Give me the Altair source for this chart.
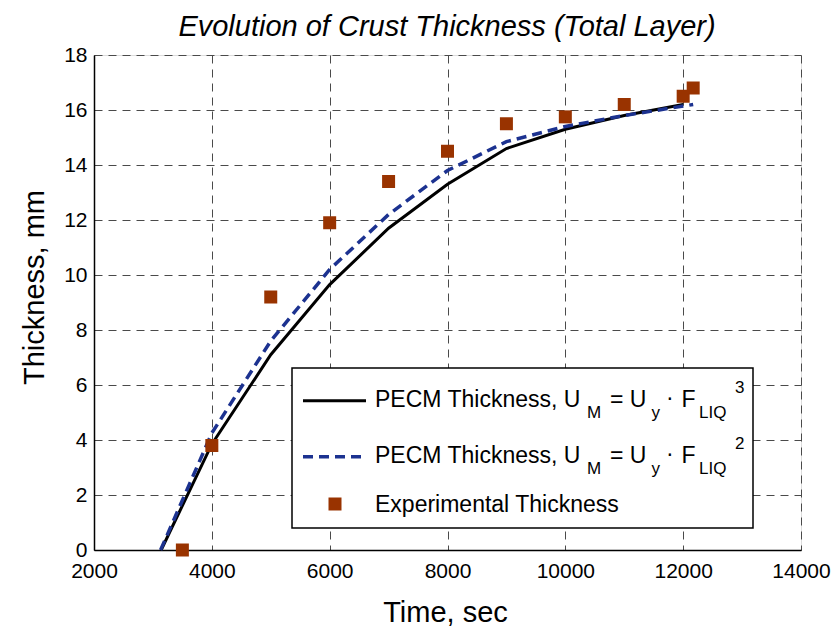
import altair as alt
import pandas as pd

# ---- data ----
pecm3_time = [3140, 4000, 5000, 6000, 7000, 8000, 9000, 10000, 11000, 12000]
pecm3_thick = [0.0, 3.85, 7.1, 9.65, 11.7, 13.3, 14.6, 15.3, 15.8, 16.2]

pecm2_time = [3130, 4000, 5000, 6000, 7000, 8000, 9000, 10000, 11000, 12170]
pecm2_thick = [0.0, 4.25, 7.6, 10.2, 12.2, 13.8, 14.85, 15.4, 15.8, 16.2]

exp_time = [3500, 4000, 5000, 6000, 7000, 8000, 9000, 10000, 11000, 12000, 12170]
exp_thick = [0.0, 3.8, 9.2, 11.9, 13.4, 14.5, 15.5, 15.75, 16.2, 16.5, 16.8]

x_ticks = [2000, 4000, 6000, 8000, 10000, 12000, 14000]
y_ticks = [0, 2, 4, 6, 8, 10, 12, 14, 16, 18]

FONT = "Liberation Sans"
BLACK_LINE = "#000000"
BLUE_LINE = "#1c3290"
SQUARE = "#993300"

df3 = pd.DataFrame({"t": pecm3_time, "h": pecm3_thick})
df2 = pd.DataFrame({"t": pecm2_time, "h": pecm2_thick})
dfe = pd.DataFrame({"t": exp_time, "h": exp_thick})

xscale = alt.Scale(domain=[2000, 14000], nice=False, zero=False)
yscale = alt.Scale(domain=[0, 18], nice=False, zero=False)

xaxis = alt.Axis(
    values=x_ticks, format="d", title="Time, sec",
    grid=True, gridDash=[8, 6], gridColor="#4a4a4a", gridWidth=1,
    ticks=False, tickSize=0, labelPadding=10, labelFontSize=21, labelFont=FONT,
    labelColor="#000000", domainColor="#000000", domainWidth=1.5,
    titleFont=FONT, titleFontSize=29, titleFontWeight="normal", titleColor="#000000",
    titleBaseline="alphabetic", titleY=71, titleX=351, titleAnchor="middle",
    labelFlush=False,
)
yaxis = alt.Axis(
    values=y_ticks, format="d", title="Thickness, mm",
    grid=True, gridDash=[8, 6], gridColor="#4a4a4a", gridWidth=1,
    ticks=False, tickSize=0, labelPadding=7, labelFontSize=21, labelFont=FONT,
    labelColor="#000000", domainColor="#000000", domainWidth=1.5,
    titleFont=FONT, titleFontSize=29, titleFontWeight="normal", titleColor="#000000",
    titleBaseline="alphabetic", titleX=-51, titleY=232, titleAngle=-90, titleAnchor="middle",
    labelFlush=False,
)

base_x = alt.X("t:Q", scale=xscale, axis=xaxis)
base_y = alt.Y("h:Q", scale=yscale, axis=yaxis)

line3 = alt.Chart(df3).mark_line(color=BLACK_LINE, strokeWidth=3).encode(x=base_x, y=base_y)
line2 = alt.Chart(df2).mark_line(color=BLUE_LINE, strokeWidth=3.5, strokeDash=[10, 6]).encode(
    x=alt.X("t:Q", scale=xscale), y=alt.Y("h:Q", scale=yscale))
pts = alt.Chart(dfe).mark_square(color=SQUARE, size=169, opacity=1).encode(
    x=alt.X("t:Q", scale=xscale), y=alt.Y("h:Q", scale=yscale))

one = alt.Data(values=[{"a": 1}])


def txt(s, x, y, size, align="left", style="normal"):
    return alt.Chart(one).mark_text(
        font=FONT, fontSize=size, align=align, baseline="alphabetic", color="#000000",
        fontStyle=style,
    ).encode(x=alt.value(x), y=alt.value(y), text=alt.value(s))


title = txt("Evolution of Crust Thickness (Total Layer)", 353, -19, 29, align="center", style="italic")

legend_layers = [
    alt.Chart(one).mark_rect(fill="white", stroke="black", strokeWidth=1.5).encode(
        x=alt.value(198), x2=alt.value(659), y=alt.value(313), y2=alt.value(473)),
    alt.Chart(one).mark_rule(color=BLACK_LINE, strokeWidth=3).encode(
        x=alt.value(209), x2=alt.value(272), y=alt.value(345.7)),
    alt.Chart(one).mark_rule(color=BLUE_LINE, strokeWidth=3.5, strokeDash=[10, 6]).encode(
        x=alt.value(209), x2=alt.value(272), y=alt.value(401.7)),
    alt.Chart(one).mark_square(color=SQUARE, size=169, opacity=1).encode(
        x=alt.value(241), y=alt.value(449)),
]
for row, sup in ((0, "3"), (1, "2")):
    dy = 56 * row
    legend_layers += [
        txt("PECM Thickness, U", 281, 351.7 + dy, 23),
        txt("M", 493, 363.3 + dy, 17),
        txt("= U", 516, 351.7 + dy, 23),
        txt("y", 557.5, 363.3 + dy, 17),
        txt("·", 572, 349.5 + dy, 23),
        txt("F", 587.5, 351.7 + dy, 23),
        txt("LIQ", 605, 363.3 + dy, 17),
        txt(sup, 641, 338.3 + dy, 17),
    ]
legend_layers.append(txt("Experimental Thickness", 281, 457.3, 23))

chart = alt.layer(line3, line2, pts, title, *legend_layers).properties(
    width=707, height=495,
    padding={"left": 94, "top": 55, "right": 32, "bottom": 78},
    autosize=alt.AutoSizeParams(type="none"),
).configure_view(stroke="#000000", strokeWidth=1.5).configure(background="white")

chart.save("out.html", embed_options={"renderer": "svg", "actions": False})
